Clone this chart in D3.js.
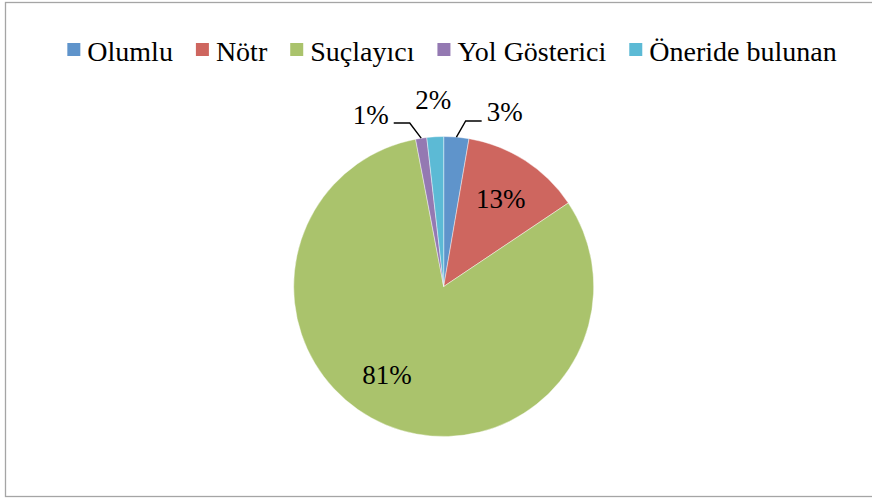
<!DOCTYPE html>
<html>
<head>
<meta charset="utf-8">
<script src="https://cdn.jsdelivr.net/npm/d3@7"></script>
<style>
  html, body { margin: 0; padding: 0; background: #fff; }
</style>
</head>
<body>
<div id="chart"></div>
<script>
// data (share of each category, in %)
var categories = ["Olumlu", "Nötr", "Suçlayıcı", "Yol Gösterici", "Öneride bulunan"],
	values = [2.7, 12.9, 81.4, 1.2, 1.8],
	colors = ["#5f94cb", "#ce665f", "#aac36c", "#9479b2", "#5cbad5"];

var width = 872,
	height = 499,
	cx = 443.7,
	cy = 286.5,
	radius = 150,
	fontSize = 27,
	font = "'Liberation Serif', 'Times New Roman', Times, serif";

// where each label goes: "in" = inside the slice, "leader" = outside with a bent line, "out" = plain outside
var labelMode = ["leader", "in", "in", "leader", "out"],
	labelTurn = [2.7, 0, 10, -3.1, 0]; // small angle nudges in degrees

var svg = d3.select("#chart").append("svg")
	.attr("width", width)
	.attr("height", height)
	.attr("font-family", font);

// chart frame (its right edge runs past the picture)
svg.append("rect")
	.attr("x", 5.5)
	.attr("y", 2.5)
	.attr("width", width + 20)
	.attr("height", 494)
	.attr("fill", "#fff")
	.attr("stroke", "#a5a5a5")
	.attr("stroke-width", 1.3);

var pie = d3.pie().sort(null).value(function(d) { return d; });
var arcs = pie(values);
var arc = d3.arc().innerRadius(0).outerRadius(radius);

var g = svg.append("g")
	.attr("transform", "translate(" + cx + "," + cy + ")");

g.selectAll("path.slice")
	.data(arcs)
	.enter().append("path")
	.attr("class", "slice")
	.attr("d", arc)
	.attr("fill", function(d, i) { return colors[i]; })
	.attr("stroke", "#fff")
	.attr("stroke-width", 0.6)
	.attr("stroke-opacity", 0.7);

function polar(angle, r) {
	return [Math.sin(angle) * r, -Math.cos(angle) * r];
}

arcs.forEach(function(d, i) {
	var mid = (d.startAngle + d.endAngle) / 2,
		label = Math.round(values[i]) + "%",
		turn = labelTurn[i] * Math.PI / 180;

	if (labelMode[i] === "in") {
		var p = polar(mid + turn, radius * 0.7);
		g.append("text")
			.attr("x", p[0])
			.attr("y", p[1])
			.attr("dy", "0.35em")
			.attr("text-anchor", "middle")
			.attr("font-size", fontSize)
			.text(label);
	} else if (labelMode[i] === "leader") {
		var a = polar(mid, radius),
			b = polar(mid + turn, radius + 17),
			side = Math.sin(mid) >= 0 ? 1 : -1,
			c = [b[0] + side * 16, b[1]];
		g.append("path")
			.attr("d", d3.line()([a, b, c]))
			.attr("fill", "none")
			.attr("stroke", "#000")
			.attr("stroke-width", 1.4);
		g.append("text")
			.attr("x", c[0] + side * 5)
			.attr("y", b[1] + 0.5)
			.attr("text-anchor", side > 0 ? "start" : "end")
			.attr("font-size", fontSize)
			.text(label);
	} else {
		var q = polar(mid, radius + 37);
		g.append("text")
			.attr("x", q[0])
			.attr("y", q[1])
			.attr("dy", "0.35em")
			.attr("text-anchor", "middle")
			.attr("font-size", fontSize)
			.text(label);
	}
});

// legend across the top
var legend = svg.append("g").attr("class", "legend");
var items = legend.selectAll("g")
	.data(categories)
	.enter().append("g");

items.append("rect")
	.attr("width", 13)
	.attr("height", 13)
	.attr("y", 43)
	.attr("fill", function(d, i) { return colors[i]; });

items.append("text")
	.attr("x", 20)
	.attr("y", 61)
	.attr("font-size", 28)
	.text(function(d) { return d; });

var xPos = 0;
items.each(function() {
	var item = d3.select(this);
	item.attr("transform", "translate(" + xPos + ",0)");
	xPos += 20 + item.select("text").node().getComputedTextLength() + 23;
});
var legendWidth = xPos - 23;
legend.attr("transform", "translate(" + (452 - legendWidth / 2) + ",0)");
</script>
</body>
</html>
